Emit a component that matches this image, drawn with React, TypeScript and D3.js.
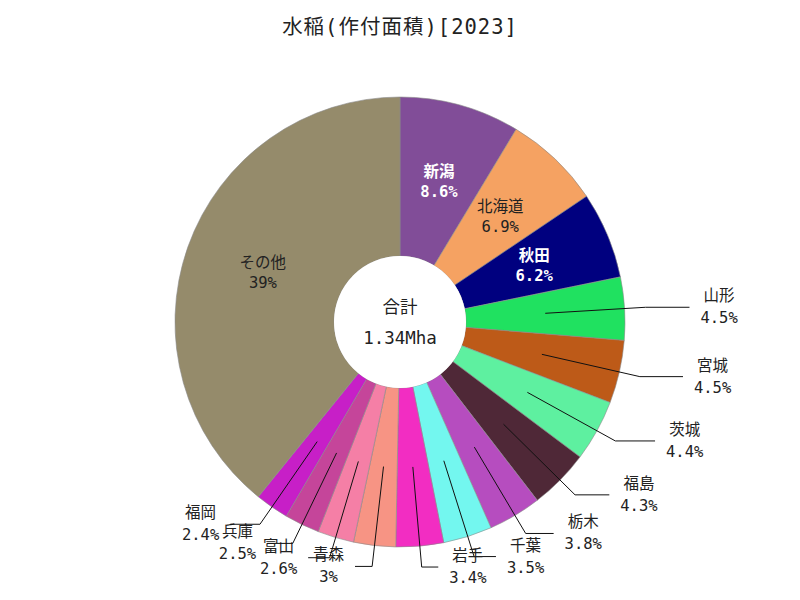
import React from 'react';
import * as d3 from 'd3';

const TITLE = '水稲(作付面積)[2023]';
const names = ['新潟', '北海道', '秋田', '山形', '宮城', '茨城', '福島', '栃木', '千葉', '岩手', '青森', '富山', '兵庫', '福岡', 'その他'];
const shares = [8.6, 6.9, 6.2, 4.5, 4.5, 4.4, 4.3, 3.8, 3.5, 3.4, 3.0, 2.6, 2.5, 2.4, 39];
const colors = ['#814d98', '#f5a262', '#00007f', '#20e160', '#bd5a18', '#5ef0a0', '#4f2837', '#b64dbf', '#73f7ef', '#f22dc2', '#f79484', '#f57fa6', '#c5459a', '#c71fc7', '#958b6b'];
const totalLabel = '合計';
const totalValue = '1.34Mha';

const FONT = "'DejaVu Sans Mono', 'Noto Sans CJK JP', monospace";

export default function App() {
  const W = 800, H = 600, cx = 400, cy = 322, rOut = 225, rIn = 66;
  const rMid = (rIn + rOut) / 2;
  const data = names.map((n, i) => ({ name: n, value: shares[i], color: colors[i] }));
  const pie = d3.pie<any>().sort(null).value((d: any) => d.value);
  const arcs = pie(data);
  const arc = d3.arc<any>().innerRadius(rIn).outerRadius(rOut);
  const fmt = d3.format('.2~r');
  const pt = (r: number, a: number) => [r * Math.sin(a), -r * Math.cos(a)];
  const lum = (c: string) => {
    const k = d3.rgb(c);
    return 0.299 * k.r + 0.587 * k.g + 0.114 * k.b;
  };
  const fs = 15.5;

  return (
    <svg width={W} height={H} style={{ position: 'absolute', left: 0, top: 0, background: '#fff' }}>
      <text x={W / 2} y={27} textAnchor="middle" dominantBaseline="central" fontFamily={FONT} fontSize={20.5} letterSpacing={1} fill="#222">
        {TITLE}
      </text>
      <g transform={`translate(${cx},${cy})`}>
        {arcs.map((a: any, i: number) => (
          <path key={i} d={arc(a) as string} fill={a.data.color} stroke="#8a8a8a" strokeWidth={0.6} />
        ))}
        {arcs.map((a: any, i: number) => {
          const mid = (a.startAngle + a.endAngle) / 2;
          const pct = fmt(a.data.value) + '%';
          if (a.data.value >= 5) {
            const [x, y] = pt(rMid, mid);
            const dark = lum(a.data.color) < 128;
            return (
              <g key={'l' + i} fontFamily={FONT} fontSize={fs} textAnchor="middle" fill={dark ? '#fff' : '#222'} fontWeight={dark ? 'bold' : 'normal'}>
                <text x={x} y={y - 10} dominantBaseline="central">{a.data.name}</text>
                <text x={x} y={y + 10} dominantBaseline="central">{pct}</text>
              </g>
            );
          }
          const side = Math.sin(mid) >= 0 ? 1 : -1;
          const p1 = pt(rMid, mid);
          const p2 = pt(rOut + 21, mid);
          const L = 15 + 29 * Math.pow(Math.abs(Math.sin(mid)), 1.2);
          const p3 = [p2[0] + side * L, p2[1]];
          const bw = Math.max(a.data.name.length * fs, pct.length * fs * 0.6);
          const tx = side > 0 ? p3[0] + 11 + bw / 2 : p3[0] - 11 - bw / 2;
          return (
            <g key={'o' + i}>
              <polyline points={[p1, p2, p3].map((p) => p.join(',')).join(' ')} fill="none" stroke="#111" strokeWidth={1} />
              <g fontFamily={FONT} fontSize={fs} textAnchor="middle" fill="#222">
                <text x={tx} y={p2[1] - 11} dominantBaseline="central">{a.data.name}</text>
                <text x={tx} y={p2[1] + 11} dominantBaseline="central">{pct}</text>
              </g>
            </g>
          );
        })}
        <circle r={rIn} fill="#fff" />
        <text x={0} y={-15} textAnchor="middle" dominantBaseline="central" fontFamily={FONT} fontSize={17.5} fill="#222">{totalLabel}</text>
        <text x={0} y={16} textAnchor="middle" dominantBaseline="central" fontFamily={FONT} fontSize={17.5} fill="#222">{totalValue}</text>
      </g>
    </svg>
  );
}
